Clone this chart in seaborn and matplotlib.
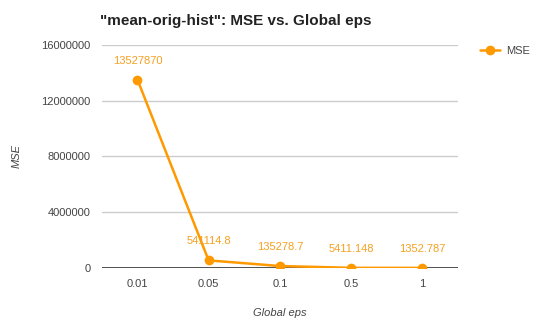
import matplotlib
matplotlib.use("Agg")
import matplotlib.pyplot as plt
import seaborn as sns
import pandas as pd

eps_labels = ["0.01", "0.05", "0.1", "0.5", "1"]
mse_values = [13527870, 541114.8, 135278.7, 5411.148, 1352.787]
value_labels = ["13527870", "541114.8", "135278.7", "5411.148", "1352.787"]
y_ticks = [0, 4000000, 8000000, 12000000, 16000000]

sns.set_style("white")
plt.rcParams["font.family"] = ["Arial", "Liberation Sans", "DejaVu Sans"]

orange = "#FF9900"
df = pd.DataFrame({"eps": eps_labels, "MSE": mse_values})

fig = plt.figure(figsize=(5.33, 3.22), dpi=100)
ax = fig.add_axes([0.191, 0.168, 0.668, 0.692])

sns.lineplot(data=df, x="eps", y="MSE", ax=ax, color=orange, linewidth=1.8,
             marker="o", markersize=7, markeredgewidth=0, sort=False,
             label="MSE", zorder=3)

ax.set_xlim(-0.5, len(eps_labels) - 0.5)
ax.set_ylim(0, 16000000)
ax.set_yticks(y_ticks)
ax.set_yticklabels([str(v) for v in y_ticks])
ax.tick_params(axis="both", length=0, labelsize=8, colors="#444444")
ax.tick_params(axis="y", pad=8)
ax.tick_params(axis="x", pad=8)

for yv in y_ticks[1:]:
    ax.axhline(yv, color="#cccccc", linewidth=1, zorder=0)
ax.axhline(0, color="#333333", linewidth=1.2, zorder=1)

for s in ax.spines.values():
    s.set_visible(False)

for i, (v, lab) in enumerate(zip(mse_values, value_labels)):
    ax.annotate(lab, (i, v), xytext=(0, 10), textcoords="offset points",
                ha="center", va="bottom", fontsize=8, color="#F5A020")

ax.set_xlabel("Global eps", fontsize=8, style="italic", color="#444444", labelpad=14)
ax.set_ylabel("MSE", fontsize=8, style="italic", color="#444444", labelpad=14)

fig.text(0.188, 0.935, "\"mean-orig-hist\": MSE vs. Global eps", fontsize=11,
         fontweight="bold", color="#222222", ha="left", va="center")

leg = ax.legend(loc="upper left", bbox_to_anchor=(1.035, 1.04), frameon=False,
                fontsize=8, handlelength=1.8, handletextpad=0.5)
for t in leg.get_texts():
    t.set_color("#444444")

fig.savefig("out.png", dpi=100, facecolor="white")
